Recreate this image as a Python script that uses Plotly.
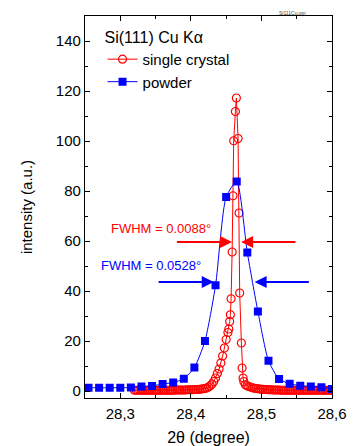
import plotly.graph_objects as go

# ---- data ----
powder_x = [28.255, 28.270, 28.285, 28.300, 28.315, 28.330, 28.345, 28.360,
            28.375, 28.390, 28.405, 28.420, 28.435, 28.450, 28.465, 28.480,
            28.495, 28.510, 28.525, 28.540, 28.555, 28.570, 28.585, 28.600]
powder_y = [1.3, 1.3, 1.3, 1.3, 1.4, 1.8, 2.0, 2.8,
            3.4, 4.9, 9.4, 20.0, 42.3, 77.6, 83.8, 55.4,
            31.8, 12.1, 4.8, 2.9, 2.1, 1.8, 1.5, 0.8]

crystal_x = [28.3200, 28.3225, 28.3250, 28.3275, 28.3300, 28.3325, 28.3350, 28.3375,
             28.3400, 28.3425, 28.3450, 28.3475, 28.3500, 28.3525, 28.3550, 28.3575,
             28.3600, 28.3625, 28.3650, 28.3675, 28.3700, 28.3725, 28.3750, 28.3775,
             28.3800, 28.3825, 28.3850, 28.3875, 28.3900, 28.3925, 28.3950, 28.3975,
             28.4000, 28.4025, 28.4050, 28.4075, 28.4100, 28.4125, 28.4150, 28.4175,
             28.4200, 28.4225, 28.4250, 28.4275, 28.4300, 28.4325, 28.4350, 28.4375,
             28.4400, 28.4425, 28.4450, 28.4475, 28.4500, 28.4525, 28.4538, 28.4550,
             28.4560, 28.4570, 28.4585, 28.4597, 28.4607, 28.4631, 28.4645, 28.4669,
             28.4683, 28.4692, 28.4716, 28.4726, 28.4740, 28.4750, 28.4772, 28.4795,
             28.4819, 28.4850, 28.4875, 28.4900, 28.4925, 28.4950, 28.4975, 28.5000,
             28.5025, 28.5050, 28.5075, 28.5100, 28.5125, 28.5150, 28.5175, 28.5200,
             28.5225, 28.5250, 28.5275, 28.5300, 28.5325, 28.5350, 28.5375, 28.5400,
             28.5425, 28.5450, 28.5475, 28.5500, 28.5525, 28.5550, 28.5575, 28.5600,
             28.5625, 28.5650, 28.5675, 28.5700, 28.5725, 28.5750, 28.5775, 28.5800,
             28.5825, 28.5850, 28.5875, 28.5900, 28.5925, 28.5950, 28.5975, 28.6000]
crystal_y = [0.3, 0.3, 0.3, 0.3, 0.3, 0.3, 0.3, 0.3,
             0.3, 0.3, 0.3, 0.3, 0.3, 0.3, 0.3, 0.3,
             0.3, 0.3, 0.3, 0.3, 0.3, 0.3, 0.3, 0.4,
             0.4, 0.4, 0.4, 0.4, 0.4, 0.4, 0.5, 0.5,
             0.5, 0.5, 0.6, 0.6, 0.6, 0.7, 0.8, 0.9,
             1.0, 1.2, 1.6, 2.1, 2.8, 3.8, 5.2, 7.0,
             8.8, 11.2, 14.0, 17.2, 20.6, 23.4, 24.8, 27.8,
             30.5, 36.9, 55.6, 78.1, 100.1, 111.8, 117.2, 101.0,
             71.2, 39.2, 19.2, 9.2, 5.2, 3.8, 2.5, 2.1,
             1.8, 1.5, 1.3, 1.1, 1.0, 0.9, 0.8, 0.7,
             0.7, 0.6, 0.6, 0.5, 0.5, 0.5, 0.4, 0.4,
             0.4, 0.4, 0.3, 0.3, 0.3, 0.3, 0.3, 0.3,
             0.3, 0.3, 0.3, 0.3, 0.3, 0.3, 0.3, 0.3,
             0.3, 0.3, 0.3, 0.3, 0.3, 0.3, 0.3, 0.3,
             0.3, 0.3, 0.3, 0.3, 0.3, 0.3, 0.3, 0.3]

x_ticks = [28.3, 28.4, 28.5, 28.6]
x_tick_labels = ["28,3", "28,4", "28,5", "28,6"]
y_ticks = [0, 20, 40, 60, 80, 100, 120, 140]

FONT = "Liberation Sans, Arial, sans-serif"
RED = "#ff0000"
BLUE = "#0000ff"

fig = go.Figure()

fig.add_trace(go.Scatter(
    x=crystal_x, y=crystal_y, mode="lines+markers", name="single crystal",
    line=dict(color=RED, width=1),
    marker=dict(symbol="circle-open", size=8, color=RED, line=dict(width=1.2, color=RED)),
))
fig.add_trace(go.Scatter(
    x=powder_x, y=powder_y, mode="lines+markers", name="powder",
    line=dict(color=BLUE, width=1, shape="spline", smoothing=0.6),
    marker=dict(symbol="square", size=8, color=BLUE),
))

# FWHM arrows
arrows = [
    (28.3781, 28.4584, 59.6, RED),
    (28.5504, 28.4712, 59.6, RED),
    (28.3522, 28.4324, 43.6, BLUE),
    (28.5693, 28.4904, 43.6, BLUE),
]
for tail, tip, yv, col in arrows:
    fig.add_annotation(x=tip, y=yv, ax=tail, ay=yv, xref="x", yref="y",
                       axref="x", ayref="y", showarrow=True, arrowhead=2,
                       arrowsize=1.2, arrowwidth=2, arrowcolor=col, text="")

fig.add_annotation(x=28.3576, y=65.2, xref="x", yref="y", showarrow=False,
                   text="FWHM = 0.0088°", font=dict(family=FONT, size=13, color=RED))
fig.add_annotation(x=28.343, y=50.1, xref="x", yref="y", showarrow=False,
                   text="FWHM = 0.0528°", font=dict(family=FONT, size=13, color=BLUE))

fig.add_annotation(x=0.904, y=1.02, xref="paper", yref="paper", showarrow=False,
                   text="Si111Cu.opj", font=dict(family=FONT, size=5, color="#444"))

axis_common = dict(showline=True, linecolor="black", linewidth=1.3, mirror="ticks",
                   ticks="inside", ticklen=5, tickwidth=1, tickcolor="black",
                   showgrid=False, zeroline=False, automargin=False,
                   tickfont=dict(family=FONT, size=15, color="black"))

fig.update_xaxes(range=[28.25, 28.6], tickvals=x_ticks, ticktext=x_tick_labels,
                 minor=dict(ticks="inside", ticklen=3, dtick=0.05, tick0=28.25,
                            tickcolor="black", showgrid=False),
                 ticklabelstandoff=2,
                 title=dict(text="2θ (degree)", font=dict(family=FONT, size=16, color="black"),
                            standoff=12),
                 **axis_common)
fig.update_yaxes(range=[-2.8, 150], tickvals=y_ticks,
                 minor=dict(ticks="inside", ticklen=3, dtick=10, tick0=0,
                            tickcolor="black", showgrid=False),
                 title=dict(text="intensity (a.u.)", font=dict(family=FONT, size=15, color="black"),
                            standoff=19),
                 **axis_common)

fig.update_layout(
    width=355, height=446,
    margin=dict(l=84.5, r=23.3, t=16, b=47.7),
    paper_bgcolor="white", plot_bgcolor="white",
    separators=", ",
    showlegend=True,
    legend=dict(x=0.071, y=0.984, xanchor="left", yanchor="top",
                bgcolor="rgba(0,0,0,0)", borderwidth=0,
                title=dict(text="Si(111) Cu Kα", font=dict(family=FONT, size=16, color="black")),
                font=dict(family=FONT, size=15, color="black"),
                tracegroupgap=0),
    font=dict(family=FONT),
)

fig.write_html("out.html")
